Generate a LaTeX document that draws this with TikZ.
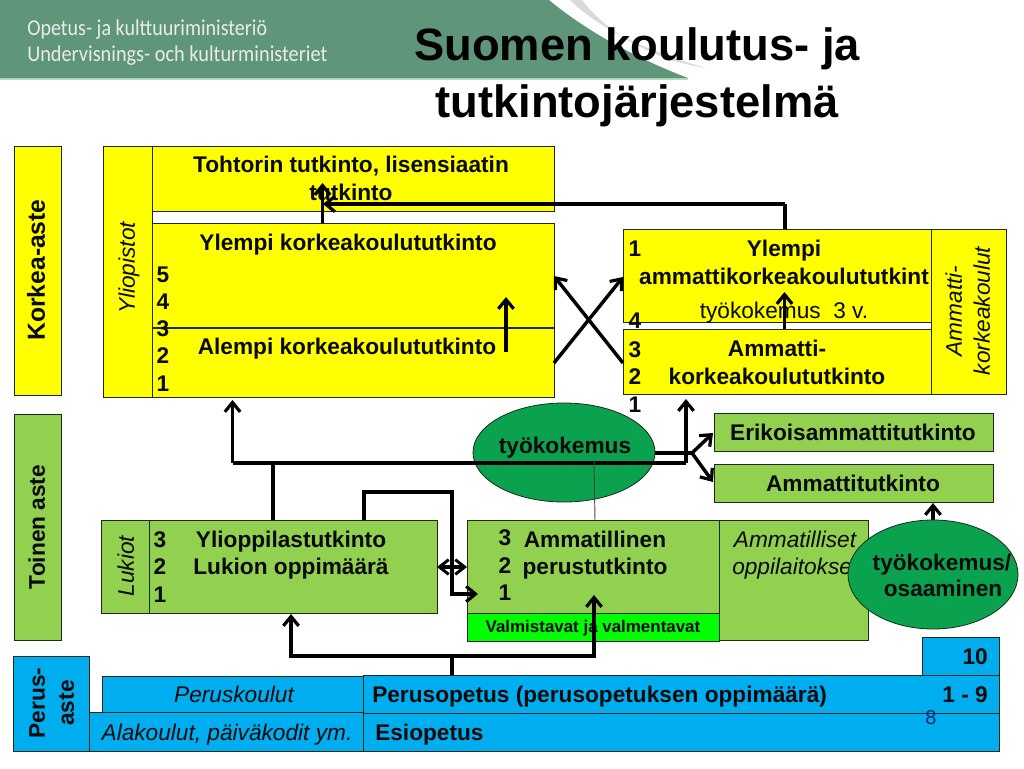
\documentclass[tikz,border=0pt]{standalone}
\usepackage{fontspec}
\usepackage{graphicx}
\setmainfont{Liberation Sans}
\newfontfamily\hdrfont{Carlito}
\usetikzlibrary{arrows.meta,shapes.geometric}
\definecolor{hdrgreen}{HTML}{5F9579}
\definecolor{hdrline}{HTML}{B5DCC6}
\definecolor{yel}{HTML}{FFFF00}
\definecolor{grn}{HTML}{92D050}
\definecolor{brt}{HTML}{00FF00}
\definecolor{ell}{HTML}{0AA24E}
\definecolor{blu}{HTML}{00AEEF}
\definecolor{ink}{HTML}{0A0A0A}
\definecolor{edge}{HTML}{1C2A1C}
\definecolor{pagenum}{HTML}{0A2A6A}
\newcommand{\bx}[6]{\node[cell,fill=#6,minimum width=#4*0.75pt-#2*0.75pt,minimum height=#5*0.75pt-#3*0.75pt] (#1) at ({(#2+#4)/2},{(#3+#5)/2}) {};}
\tikzset{
  cell/.style={draw=edge,line width=0.6pt,inner sep=0pt,outer sep=0pt},
  lab/.style={font=\fontsize{17}{17}\selectfont\bfseries,text=ink,inner sep=0pt,text height=13.6pt,text depth=1.7pt},
  slab/.style={font=\fontsize{17}{17}\selectfont\itshape,text=ink,inner sep=0pt,text height=13.6pt,text depth=1.7pt},
  num/.style={lab},
  conn/.style={draw=black,line width=2.6pt},
  arr/.style={conn,-{Straight Barb[length=7pt,width=11.5pt,line width=2.4pt]}},
  blob/.style={ellipse,draw=edge,line width=0.6pt,fill=ell,inner sep=0pt,outer sep=0pt},
}
\begin{document}
\begin{tikzpicture}[x=0.75pt,y=-0.75pt]
\useasboundingbox (0,0) rectangle (1024,768);
% header
\fill[gray!30] (570,0) .. controls (600,30) and (650,52) .. (706,68) .. controls (650,60) and (605,30) .. (582,0) -- cycle;
\fill[hdrline] (0,78) rectangle (688,79.5);
\fill[hdrgreen] (0,0) -- (549,0) .. controls (585,30) and (635,58) .. (688,78) -- (0,78) -- cycle;
\node[font=\hdrfont\fontsize{17}{17}\selectfont,text=white!92!black,anchor=west,inner sep=0pt] (hdra) at (27,30) {\scalebox{0.885}[1]{Opetus- ja kulttuuriministeriö}};
\node[font=\hdrfont\fontsize{17}{17}\selectfont,text=white!92!black,anchor=west,inner sep=0pt] (hdrb) at (27,56) {\scalebox{0.895}[1]{Undervisnings- och kulturministeriet}};
\node[font=\fontsize{34}{34}\selectfont\bfseries,text=black,inner sep=0pt] (ttla) at (637,49) {Suomen koulutus- ja};
\node[font=\fontsize{34}{34}\selectfont\bfseries,text=black,inner sep=0pt] (ttlb) at (637,106) {tutkintojärjestelmä};
% side boxes
\bx{korkea}{14}{146}{61}{395}{yel}
\bx{toinen}{14}{414}{61}{640}{grn}
\bx{perusaste}{13}{656}{89}{751}{blu}
% university
\bx{yliopistot}{103}{146}{152}{397}{yel}
\bx{tohtori}{152}{146}{554}{211}{yel}
\bx{ylempi}{152}{223}{554}{327}{yel}
\bx{alempi}{152}{328}{554}{397}{yel}
% amk
\bx{amkyl}{623}{229}{931}{322}{yel}
\bx{amk}{623}{329}{931}{394}{yel}
\bx{amkside}{931}{229}{1006}{394}{yel}
% secondary
\bx{lukiot}{101}{520}{149}{613}{grn}
\bx{lukio}{149}{520}{437}{613}{grn}
\bx{amlaitos}{719}{520}{868}{640}{grn}
\bx{ammperus}{467}{520}{719}{613}{grn}
\bx{valm}{467}{613}{719}{641}{brt}
\bx{erikois}{714}{413}{993}{451}{grn}
\bx{ammatti}{714}{464}{993}{502}{grn}
% basic
\bx{kymppi}{922}{637}{999}{675}{blu}
\bx{peruskoulut}{102}{676}{363}{712}{blu}
\bx{alakoulut}{89}{712}{363}{751}{blu}
\bx{perusop}{363}{675}{999}{713}{blu}
\bx{esiop}{363}{713}{999}{751}{blu}
% ellipses
\node[blob,minimum width=136.5pt,minimum height=74.25pt] (tyo) at (564,452.5) {};
% junction coordinates
\coordinate (jy) at (785,204);
\coordinate (jt) at (323,204);
\coordinate (up1s) at (322.5,223);
\coordinate (up1e) at (322.5,183);
\coordinate (up2s) at (506,352);
\coordinate (up2e) at (506,297);
\coordinate (cr1s) at (554,363);
\coordinate (cr1e) at (623,277);
\coordinate (cr2s) at (623,363);
\coordinate (cr2e) at (554,276);
\coordinate (up3s) at (784.5,329);
\coordinate (up3e) at (784.5,292);
\coordinate (la) at (232.5,463);
\coordinate (lat) at (232.5,400);
\coordinate (lb) at (686,463);
\coordinate (lbt) at (686,399);
\coordinate (lc) at (273,463);
\coordinate (lcs) at (273,520);
\coordinate (fork) at (692,453);
\coordinate (tyoe) at (655,453);
\coordinate (fa) at (713,433);
\coordinate (fb) at (713,482);
\coordinate (thina) at (594,460);
\coordinate (thinb) at (595,520);
\coordinate (m1) at (364,520);
\coordinate (m2) at (364,492);
\coordinate (m3) at (452,492);
\coordinate (m4) at (452,594);
\coordinate (m5) at (478,594);
\coordinate (da) at (437,567);
\coordinate (db) at (467,567);
\coordinate (b0) at (452,675);
\coordinate (b1) at (452,656);
\coordinate (b2) at (291,656);
\coordinate (b3) at (291,614);
\coordinate (b4) at (594,656);
\coordinate (b5) at (594,595);
\coordinate (e1) at (933,521);
\coordinate (e2) at (933,503);
\coordinate (ya) at (785,229);
% texts
\node[lab,rotate=90,font=\fontsize{18.5}{18.5}\selectfont\bfseries] (tkorkea) at (37,270) {Korkea-aste};
\node[lab,rotate=90] (ttoinen) at (37,527) {Toinen aste};
\node[lab,rotate=90] (tperus1) at (37,703) {Perus-};
\node[lab,rotate=90] (tperus2) at (66,703) {aste};
\node[slab,rotate=90] (tyliop) at (127,268) {Yliopistot};
\node[lab] (ttoh1) at (351,165) {Tohtorin tutkinto, lisensiaatin};
\node[lab] (ttoh2) at (351,193) {tutkinto};
\node[lab] (tyl) at (348,243) {Ylempi korkeakoulututkinto};
\node[lab] (tal) at (347,347) {Alempi korkeakoulututkinto};
\node[num] (u5) at (163,275) {5};
\node[num] (u4) at (163,302) {4};
\node[num] (u3) at (163,329) {3};
\node[num] (u2) at (163,356) {2};
\node[num] (u1) at (163,384) {1};
\node[num] (a1) at (635,249) {1};
\node[num] (a4) at (635,321) {4};
\node[num] (a3) at (635,350) {3};
\node[num] (a2) at (635,377) {2};
\node[num] (a0) at (635,405) {1};
\node[lab] (tamk1) at (784,249) {Ylempi};
\node[lab] (tamk2) at (784,277) {ammattikorkeakoulututkint};
\node[lab,font=\fontsize{17}{17}\selectfont] (tamk3) at (784,311) {työkokemus\ \ 3 v.};
\node[lab] (tamk4) at (777,349) {Ammatti-};
\node[lab] (tamk5) at (777,377) {korkeakoulututkinto};
\node[slab,rotate=90] (tside1) at (954,311) {Ammatti-};
\node[slab,rotate=90] (tside2) at (982,311) {korkeakoulut};
\node[slab,rotate=90] (tluk) at (126,566) {Lukiot};
\node[num] (l3) at (160,540) {3};
\node[num] (l2) at (160,567) {2};
\node[num] (l1) at (160,595) {1};
\node[lab] (tlu1) at (291,540) {Ylioppilastutkinto};
\node[lab] (tlu2) at (291,567) {Lukion oppimäärä};
\node[num] (p3) at (505,538) {3};
\node[num] (p2) at (505,566) {2};
\node[num] (p1) at (505,593) {1};
\node[lab] (tam1) at (595,540) {Ammatillinen};
\node[lab] (tam2) at (595,567) {perustutkinto};
\node[lab,font=\fontsize{12.7}{13}\selectfont\bfseries,text height=10.8pt,text depth=1.5pt] (tvalm) at (593,626) {Valmistavat ja valmentavat};
\node[lab] (terik) at (853,433) {Erikoisammattitutkinto};
\node[lab] (tamt) at (853,484) {Ammattitutkinto};
\node[slab] (tamil1) at (795,540) {Ammatilliset};
\node[slab,anchor=west] (tamil2) at (732,567) {oppilaitokse};
\node[lab,anchor=east] (t10) at (988,657) {10};
\node[lab,anchor=east] (t19) at (988,695) {1 - 9};
\node[lab,anchor=west] (tpo) at (372,695) {Perusopetus (perusopetuksen oppimäärä)};
\node[lab,anchor=west] (teo) at (375,733) {Esiopetus};
\node[slab] (tpk) at (234,695) {Peruskoulut};
\node[slab] (tak) at (227,733) {Alakoulut, päiväkodit ym.};
\node[font=\fontsize{15}{15}\selectfont,text=pagenum,inner sep=0pt] (tpage) at (931,718) {8};
\node[lab] (ttyo) at (565,446) {työkokemus};
% connectors
\draw[conn] (ya) -- (jy);
\draw[arr] (jy) -- (jt);
\draw[arr] (up1s) -- (up1e);
\draw[arr] (up2s) -- (up2e);
\draw[arr] (cr1s) -- (cr1e);
\draw[arr] (cr2s) -- (cr2e);
\draw[arr] (up3s) -- (up3e);
\draw[arr] (lb) -- (lbt);
\draw[arr] (la) -- (lat);
\draw[conn] (la) -- (lb);
\draw[conn] (lcs) -- (lc);
\draw[conn] (tyoe) -- (fork);
\draw[arr] (fork) -- (fa);
\draw[arr] (fork) -- (fb);
\draw[draw=edge!85,line width=0.7pt] (thina) -- (thinb);
\draw[arr] (m1) -- (m2) -- (m3) -- (m4) -- (m5);
\draw[conn,{Straight Barb[length=7pt,width=11pt,line width=2.2pt]}-{Straight Barb[length=7pt,width=11pt,line width=2.2pt]}] (da) -- (db);
\draw[conn] (b0) -- (b1);
\draw[arr] (b1) -- (b2) -- (b3);
\draw[arr] (b1) -- (b4) -- (b5);
\draw[arr] (e1) -- (e2);
% second ellipse on top
\node[blob,minimum width=127.5pt,minimum height=81.75pt] (tyo2) at (933,574.5) {};
\node[lab] (tt1) at (942,563) {työkokemus/};
\node[lab] (tt2) at (943,589) {osaaminen};
\end{tikzpicture}
\end{document}
